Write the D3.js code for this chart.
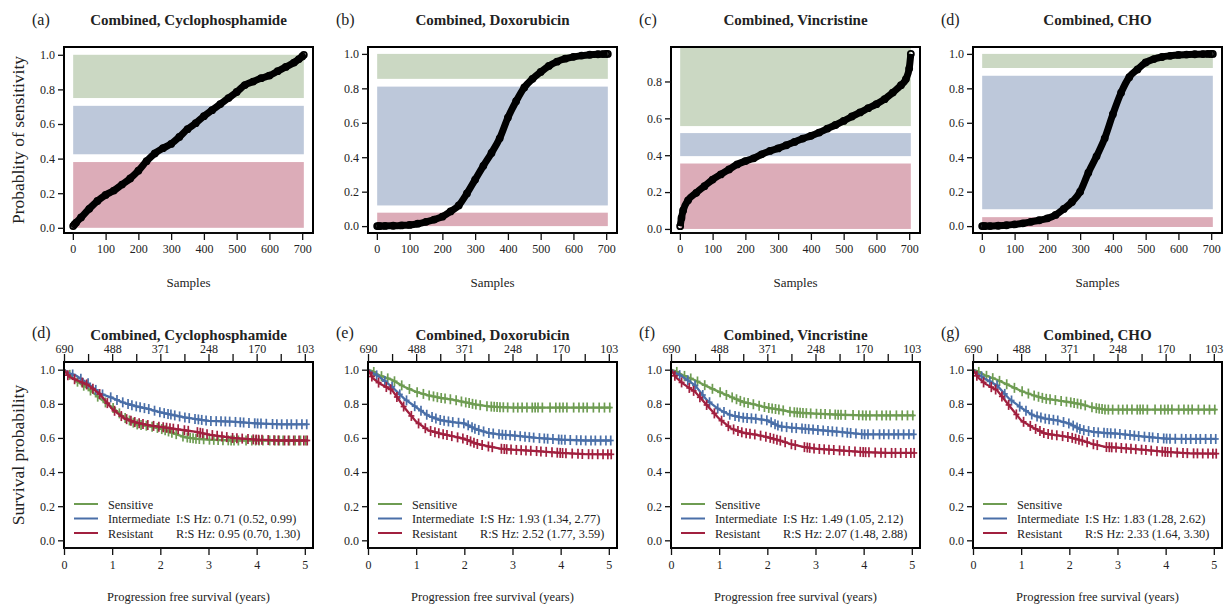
<!DOCTYPE html>
<html>
<head>
<meta charset="utf-8">
<script src="https://cdn.jsdelivr.net/npm/d3@7"></script>
<style>
  body { margin: 0; background: #fff; }
  svg text { font-family: "Liberation Serif", "Times New Roman", serif; fill: #222; }
</style>
</head>
<body>
<div id="chart"></div>
<script>
// ---- data ----
var drugs = ["Cyclophosphamide", "Doxorubicin", "Vincristine", "CHO"];
var topLabels = ["(a)", "(b)", "(c)", "(d)"];
var bottomLabels = ["(d)", "(e)", "(f)", "(g)"];

// sorted samples (index) vs probability of sensitivity
var samples = [1, 5, 10, 25, 50, 75, 100, 125, 150, 175, 200, 225, 250, 275, 300, 325, 350,
  375, 400, 425, 450, 475, 500, 525, 550, 575, 600, 625, 650, 675, 690, 700, 705];
var probCyclo = [0.01, 0.02, 0.03, 0.06, 0.11, 0.155, 0.19, 0.215, 0.25, 0.285, 0.33, 0.385, 0.43,
  0.46, 0.485, 0.525, 0.57, 0.605, 0.645, 0.68, 0.715, 0.75, 0.785, 0.825, 0.845, 0.865, 0.88,
  0.905, 0.93, 0.955, 0.975, 0.99, 1.0];
var probDoxo = [0, 0, 0, 0.001, 0.002, 0.004, 0.007, 0.014, 0.025, 0.038, 0.055, 0.085, 0.12,
  0.19, 0.27, 0.35, 0.425, 0.51, 0.63, 0.725, 0.805, 0.855, 0.895, 0.93, 0.955, 0.972, 0.983,
  0.99, 0.995, 0.998, 0.999, 1.0, 1.0];
var probVinc = [0.015, 0.06, 0.1, 0.155, 0.196, 0.232, 0.268, 0.296, 0.323, 0.35, 0.368, 0.383,
  0.405, 0.423, 0.437, 0.454, 0.472, 0.49, 0.505, 0.523, 0.544, 0.564, 0.586, 0.61, 0.632, 0.655,
  0.677, 0.704, 0.74, 0.78, 0.813, 0.87, 0.95];
var probCHO = [0, 0, 0, 0, 0.002, 0.005, 0.01, 0.016, 0.025, 0.034, 0.045, 0.065, 0.1, 0.14,
  0.2, 0.31, 0.405, 0.51, 0.65, 0.775, 0.865, 0.91, 0.95, 0.97, 0.982, 0.989, 0.994, 0.996,
  0.998, 0.999, 1.0, 1.0, 1.0];
var probs = [probCyclo, probDoxo, probVinc, probCHO];

// group bands [resistant, intermediate, sensitive] as [low, high]
var bandsCyclo = [[0, 0.38], [0.425, 0.705], [0.75, 1.0]];
var bandsDoxo = [[0, 0.078], [0.12, 0.81], [0.855, 1.0]];
var bandsVinc = [[0, 0.355], [0.395, 0.52], [0.558, 1.0]];
var bandsCHO = [[-0.005, 0.052], [0.098, 0.873], [0.918, 1.0]];
var bands = [bandsCyclo, bandsDoxo, bandsVinc, bandsCHO];
var yDomains = [[-0.03, 1.045], [-0.04, 1.04], [-0.022, 0.987], [-0.04, 1.04]];

// Kaplan-Meier estimates read at these times (years)
var kmTimes = [0, 0.1, 0.25, 0.5, 0.75, 1, 1.25, 1.5, 1.75, 2, 2.25, 2.5, 2.75, 3, 3.5, 4, 4.5, 5, 5.05];
var kmCyclo = {
  S: [1, 0.975, 0.935, 0.89, 0.83, 0.78, 0.72, 0.68, 0.67, 0.655, 0.63, 0.605, 0.595, 0.59, 0.585, 0.585, 0.585, 0.585, 0.585],
  I: [1, 0.98, 0.965, 0.92, 0.86, 0.835, 0.805, 0.785, 0.77, 0.75, 0.735, 0.72, 0.71, 0.7, 0.695, 0.685, 0.68, 0.68, 0.68],
  R: [1, 0.96, 0.94, 0.91, 0.855, 0.77, 0.715, 0.69, 0.675, 0.665, 0.655, 0.645, 0.635, 0.62, 0.6, 0.59, 0.585, 0.585, 0.585]
};
var kmDoxo = {
  S: [1, 0.99, 0.965, 0.94, 0.9, 0.87, 0.85, 0.835, 0.825, 0.81, 0.795, 0.785, 0.78, 0.778, 0.778, 0.778, 0.778, 0.778, 0.778],
  I: [1, 0.98, 0.955, 0.9, 0.83, 0.78, 0.73, 0.705, 0.693, 0.685, 0.65, 0.63, 0.62, 0.615, 0.6, 0.59, 0.585, 0.585, 0.585],
  R: [1, 0.95, 0.918, 0.88, 0.78, 0.695, 0.645, 0.625, 0.61, 0.595, 0.566, 0.55, 0.537, 0.531, 0.523, 0.512, 0.505, 0.504, 0.504]
};
var kmVinc = {
  S: [1, 0.99, 0.967, 0.938, 0.902, 0.87, 0.84, 0.81, 0.795, 0.777, 0.766, 0.752, 0.746, 0.742, 0.736, 0.732, 0.732, 0.732, 0.732],
  I: [1, 0.98, 0.957, 0.908, 0.82, 0.766, 0.732, 0.719, 0.713, 0.703, 0.668, 0.66, 0.654, 0.648, 0.635, 0.621, 0.621, 0.621, 0.621],
  R: [1, 0.955, 0.918, 0.87, 0.79, 0.713, 0.655, 0.63, 0.62, 0.605, 0.586, 0.563, 0.547, 0.537, 0.527, 0.517, 0.512, 0.512, 0.512]
};
var kmCHO = {
  S: [1, 0.99, 0.967, 0.941, 0.908, 0.875, 0.85, 0.83, 0.82, 0.81, 0.797, 0.777, 0.766, 0.766, 0.766, 0.766, 0.766, 0.766, 0.766],
  I: [1, 0.975, 0.947, 0.908, 0.83, 0.777, 0.732, 0.713, 0.703, 0.684, 0.648, 0.635, 0.629, 0.625, 0.609, 0.596, 0.594, 0.594, 0.594],
  R: [1, 0.955, 0.918, 0.879, 0.79, 0.703, 0.66, 0.625, 0.615, 0.605, 0.586, 0.563, 0.547, 0.543, 0.531, 0.518, 0.51, 0.508, 0.508]
};
var kms = [kmCyclo, kmDoxo, kmVinc, kmCHO];

// censoring times (years) per group
var censorS = [0.12, 0.28, 0.41, 0.55, 0.7, 0.86, 1.02, 1.15, 1.27, 1.36, 1.44, 1.52, 1.6, 1.71, 1.83, 1.94, 2.03, 2.1,
  2.17, 2.24, 2.33, 2.47, 2.56, 2.62, 2.68, 2.74, 2.81, 2.9, 3.02, 3.11, 3.2, 3.3, 3.41, 3.47, 3.53, 3.62, 3.78, 3.9,
  3.98, 4.05, 4.13, 4.27, 4.38, 4.47, 4.55, 4.68, 4.8, 4.91, 5.02];
var censorI = [0.18, 0.35, 0.5, 0.66, 0.8, 0.97, 1.1, 1.22, 1.33, 1.41, 1.5, 1.58, 1.67, 1.76, 1.88, 1.99, 2.08, 2.16,
  2.22, 2.3, 2.4, 2.51, 2.6, 2.72, 2.79, 2.86, 2.95, 3.05, 3.16, 3.26, 3.35, 3.44, 3.56, 3.66, 3.73, 3.84, 3.96, 4.02,
  4.09, 4.2, 4.33, 4.42, 4.52, 4.63, 4.72, 4.83, 4.94, 5.04];
var censorR = [0.08, 0.22, 0.38, 0.47, 0.6, 0.74, 0.9, 1.05, 1.19, 1.3, 1.39, 1.47, 1.56, 1.64, 1.74, 1.86, 1.97, 2.06,
  2.13, 2.2, 2.27, 2.37, 2.5, 2.58, 2.77, 2.83, 2.88, 2.97, 3.08, 3.18, 3.28, 3.38, 3.5, 3.59, 3.7, 3.82, 3.93, 3.99,
  4.04, 4.11, 4.24, 4.36, 4.45, 4.58, 4.66, 4.77, 4.88, 4.98, 5.05];
var censors = {S: censorS, I: censorI, R: censorR};

var atRisk = ["690", "488", "371", "248", "170", "103"];
var groupNames = ["Sensitive", "Intermediate", "Resistant"];
var hzIS = ["I:S Hz: 0.71 (0.52, 0.99)", "I:S Hz: 1.93 (1.34, 2.77)", "I:S Hz: 1.49 (1.05, 2.12)", "I:S Hz: 1.83 (1.28, 2.62)"];
var hzRS = ["R:S Hz: 0.95 (0.70, 1.30)", "R:S Hz: 2.52 (1.77, 3.59)", "R:S Hz: 2.07 (1.48, 2.88)", "R:S Hz: 2.33 (1.64, 3.30)"];

// ---- layout ----
var W = 1228, H = 605;
var lefts = [64, 368, 671, 973], pw = 249;
var topBox = {top: 47, bottom: 233};
var botBox = {top: 362, bottom: 548};
var lineCol = {S: "#6e9c52", I: "#4a6fa8", R: "#a1203f"};
var bandCol = ["#dcacb8", "#bdc8da", "#cbd8c3"];

var svg = d3.select("#chart").append("svg").attr("width", W).attr("height", H);

function styleAxis(g) {
  g.attr("font-family", null);
  g.select(".domain").remove();
  g.selectAll(".tick line").attr("stroke", "#111").attr("stroke-width", 1.3);
  g.selectAll(".tick text").attr("font-size", 12).attr("fill", "#222");
}

// ---- top row: sorted probabilities ----
drugs.forEach(function(drug, i) {
  var L = lefts[i];
  var x = d3.scaleLinear().domain([-27, 733]).range([L, L + pw]);
  var y = d3.scaleLinear().domain(yDomains[i]).range([topBox.bottom, topBox.top]);
  var g = svg.append("g");

  g.append("clipPath").attr("id", "clipT" + i).append("rect")
    .attr("x", L).attr("y", topBox.top).attr("width", pw).attr("height", topBox.bottom - topBox.top);

  var plot = g.append("g").attr("clip-path", "url(#clipT" + i + ")");
  plot.selectAll("rect.band").data(bands[i]).enter().append("rect")
    .attr("class", "band")
    .attr("x", x(1)).attr("width", x(705) - x(1))
    .attr("y", function(d) { return y(d[1]); })
    .attr("height", function(d) { return y(d[0]) - y(d[1]); })
    .attr("fill", function(d, k) { return bandCol[k]; });

  var pts = samples.map(function(s, k) { return [s, probs[i][k]]; });
  plot.append("path").datum(pts)
    .attr("d", d3.line().x(function(d) { return x(d[0]); }).y(function(d) { return y(d[1]); }).curve(d3.curveMonotoneX))
    .attr("fill", "none").attr("stroke", "#000").attr("stroke-width", 7);
  plot.selectAll("circle").data(pts).enter().append("circle")
    .attr("cx", function(d) { return x(d[0]); })
    .attr("cy", function(d) { return y(d[1]); })
    .attr("r", 3).attr("fill", "none").attr("stroke", "#000").attr("stroke-width", 1.8);

  g.append("rect").attr("x", L).attr("y", topBox.top).attr("width", pw).attr("height", topBox.bottom - topBox.top)
    .attr("fill", "none").attr("stroke", "#000").attr("stroke-width", 2);

  var xAxis = g.append("g").attr("transform", "translate(0," + topBox.bottom + ")")
    .call(d3.axisBottom(x).tickValues(d3.range(0, 701, 100)).tickSize(7).tickPadding(4).tickFormat(d3.format("d")));
  styleAxis(xAxis);
  xAxis.append("line").attr("x1", x(0)).attr("x2", x(700)).attr("stroke", "#111").attr("stroke-width", 1.3);

  var yt = i === 2 ? d3.range(0, 0.81, 0.2) : d3.range(0, 1.01, 0.2);
  var yAxis = g.append("g").attr("transform", "translate(" + L + ",0)")
    .call(d3.axisLeft(y).tickValues(yt).tickSize(6).tickPadding(3).tickFormat(d3.format(".1f")));
  styleAxis(yAxis);

  g.append("text").attr("x", L + pw / 2).attr("y", 25).attr("text-anchor", "middle")
    .attr("font-size", 15).attr("font-weight", "bold").text("Combined, " + drug);
  g.append("text").attr("x", L - 32).attr("y", 25).attr("font-size", 16).text(topLabels[i]);
  g.append("text").attr("x", L + pw / 2).attr("y", 287).attr("text-anchor", "middle")
    .attr("font-size", 13).text("Samples");
});

svg.append("text").attr("transform", "translate(24,140) rotate(-90)").attr("text-anchor", "middle")
  .attr("font-size", 17.5).text("Probablity of sensitivity");

// ---- bottom row: survival curves ----
drugs.forEach(function(drug, i) {
  var L = lefts[i];
  var x = d3.scaleLinear().domain([0, 5.17]).range([L, L + pw]);
  var y = d3.scaleLinear().domain([-0.045, 1.045]).range([botBox.bottom, botBox.top]);
  var g = svg.append("g");

  g.append("clipPath").attr("id", "clipB" + i).append("rect")
    .attr("x", L).attr("y", botBox.top).attr("width", pw).attr("height", botBox.bottom - botBox.top);
  var plot = g.append("g").attr("clip-path", "url(#clipB" + i + ")");

  var line = d3.line().x(function(d) { return x(d[0]); }).y(function(d) { return y(d[1]); });

  ["S", "I", "R"].forEach(function(key) {
    var vals = kms[i][key];
    var pts = kmTimes.map(function(t, k) { return [t, vals[k]]; });
    var interp = d3.scaleLinear().domain(kmTimes).range(vals);
    plot.append("path").datum(pts).attr("d", line)
      .attr("fill", "none").attr("stroke", lineCol[key]).attr("stroke-width", 2.3);
    var marks = plot.append("g").attr("stroke", lineCol[key]).attr("stroke-width", 1.7);
    censors[key].forEach(function(t) {
      var cx = x(t), cy = y(interp(t));
      marks.append("line").attr("x1", cx).attr("x2", cx).attr("y1", cy - 5).attr("y2", cy + 5);
      marks.append("line").attr("x1", cx - 3).attr("x2", cx + 3).attr("y1", cy).attr("y2", cy);
    });
  });

  g.append("rect").attr("x", L).attr("y", botBox.top).attr("width", pw).attr("height", botBox.bottom - botBox.top)
    .attr("fill", "none").attr("stroke", "#000").attr("stroke-width", 2);

  var xAxis = g.append("g").attr("transform", "translate(0," + botBox.bottom + ")")
    .call(d3.axisBottom(x).tickValues(d3.range(0, 6)).tickSize(7).tickPadding(5).tickFormat(d3.format("d")));
  styleAxis(xAxis);
  xAxis.append("line").attr("x1", x(0)).attr("x2", x(5)).attr("stroke", "#111").attr("stroke-width", 1.3);

  var topAxis = g.append("g").attr("transform", "translate(0," + botBox.top + ")")
    .call(d3.axisTop(x).tickValues(d3.range(0, 5.01, 0.5)).tickSize(8).tickPadding(3)
      .tickFormat(function(d) { return d % 1 === 0 ? atRisk[d] : ""; }));
  styleAxis(topAxis);
  topAxis.selectAll(".tick text").attr("dy", "0.15em");

  var yAxis = g.append("g").attr("transform", "translate(" + L + ",0)")
    .call(d3.axisLeft(y).tickValues(d3.range(0, 1.01, 0.2)).tickSize(6).tickPadding(3).tickFormat(d3.format(".1f")));
  styleAxis(yAxis);

  // legend
  var leg = g.append("g");
  ["S", "I", "R"].forEach(function(key, k) {
    var ly = botBox.top + 142 + k * 14.5;
    leg.append("line").attr("x1", L + 10).attr("x2", L + 34).attr("y1", ly).attr("y2", ly)
      .attr("stroke", lineCol[key]).attr("stroke-width", 2);
    leg.append("text").attr("x", L + 44).attr("y", ly + 4.5).attr("font-size", 12.3).text(groupNames[k]);
  });
  leg.append("text").attr("x", L + 112).attr("y", botBox.top + 156.5 + 4.5).attr("font-size", 12.3).text(hzIS[i]);
  leg.append("text").attr("x", L + 112).attr("y", botBox.top + 171 + 4.5).attr("font-size", 12.3).text(hzRS[i]);

  g.append("text").attr("x", L + pw / 2).attr("y", 340).attr("text-anchor", "middle")
    .attr("font-size", 15).attr("font-weight", "bold").text("Combined, " + drug);
  g.append("text").attr("x", L - 32).attr("y", 338).attr("font-size", 16).text(bottomLabels[i]);
  g.append("text").attr("x", L + pw / 2).attr("y", 601).attr("text-anchor", "middle")
    .attr("font-size", 12.5).text("Progression free survival (years)");
});

svg.append("text").attr("transform", "translate(24,455) rotate(-90)").attr("text-anchor", "middle")
  .attr("font-size", 17.5).text("Survival probability");
</script>
</body>
</html>
